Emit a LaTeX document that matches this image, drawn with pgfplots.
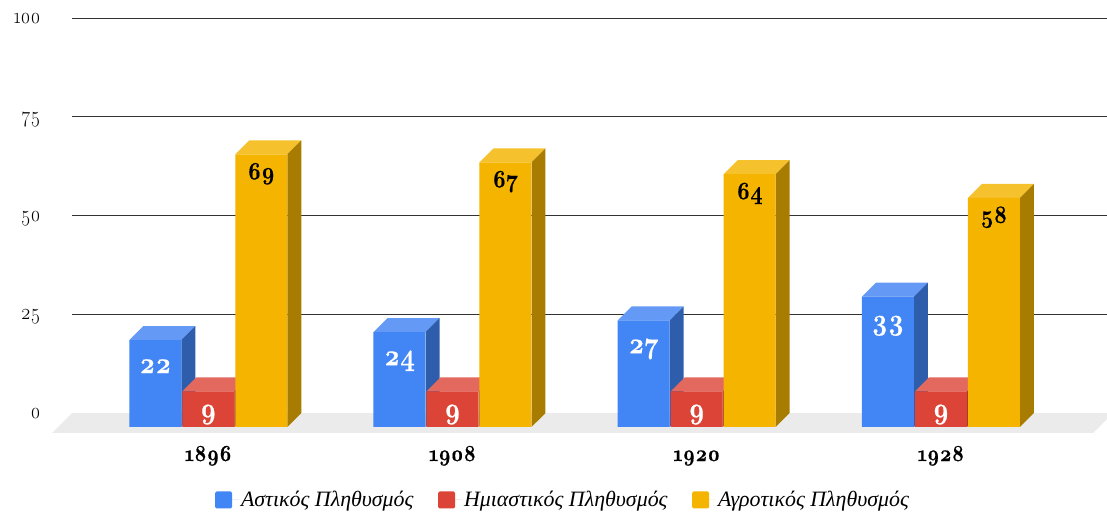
\documentclass[border=0pt]{standalone}
\usepackage{fontspec}
\setmainfont{Latin Modern Roman}
\newfontfamily\lmos[Numbers=OldStyle,FakeStretch=0.86,BoldFeatures={FakeBold=0.6}]{Latin Modern Roman}
\newfontfamily\grk{Liberation Serif}
\usepackage{pgfplots}
\pgfplotsset{compat=1.18}
\definecolor{cblue}{HTML}{4285F4}
\definecolor{cbluet}{HTML}{6499F6}
\definecolor{cblues}{HTML}{2E5DAB}
\definecolor{cred}{HTML}{DB4437}
\definecolor{credt}{HTML}{E3695F}
\definecolor{creds}{HTML}{993026}
\definecolor{cyel}{HTML}{F4B400}
\definecolor{cyelt}{HTML}{F5C12C}
\definecolor{cyels}{HTML}{A87C00}
\definecolor{cfloor}{HTML}{EBEBEB}
% x centre, value, top colour, side colour: the top and side faces of one bar
\newcommand\faces[4]{%
  \addplot[fill=#3,draw=none,forget plot] coordinates {({#1-0.1065},#2) ({#1+0.1065},#2) ({#1+0.1638},{#2+3.54}) ({#1-0.0492},{#2+3.54})} --cycle;
  \addplot[fill=#4,draw=none,forget plot] coordinates {({#1+0.1065},0) ({#1+0.1638},3.54) ({#1+0.1638},{#2+3.54}) ({#1+0.1065},#2)} --cycle;
}
\pgfplotsset{
  sq/.style={legend image code/.code={\path (0pt,0pt) -- (24pt,0pt);\fill[##1,rounded corners=1.5pt] (0pt,-8.5pt) rectangle (17pt,8.5pt);}},
  lab/.style n args={4}{nodes near coords,
    /pgf/number format/assume math mode=true,
    every node near coord/.style={anchor=base,xshift=#1,yshift=#2,text=#3,font=\fontsize{#4}{30}\selectfont\lmos\bfseries}},
}
\begin{document}
\begin{tikzpicture}
\path[use as bounding box] (-72pt,-80pt) rectangle (1035pt,433pt);
\begin{axis}[
  scale only axis,
  width=1035pt,height=415pt,
  xmin=-0.558,xmax=3.680,ymin=-1.52,ymax=103.54,
  clip=false,
  axis line style={draw=none},
  major tick style={draw=none},
  ymajorgrids,
  grid style={color=black!80,line width=0.9pt},
  xtick={0,1,2,3},
  xticklabels={1896,1908,1920,1928},
  ytick={3.54,28.54,53.54,78.54,103.54},
  yticklabels={0,25,50,75,100},
  yticklabel style={font=\fontsize{22}{25}\selectfont\lmos,anchor=base east,xshift=-28pt,yshift=-5.5pt},
  xticklabel style={font=\fontsize{23}{27}\selectfont\lmos\bfseries,anchor=base,yshift=-28pt},
  legend columns=3,
  legend style={at={(0.4744,-0.1614)},anchor=center,draw=none,fill=none,
    font=\fontsize{21.9}{25}\selectfont\grk\itshape,
    /tikz/every even column/.append style={column sep=22.5pt}},
  legend cell align=left,
]
% floor
\addplot[fill=cfloor,draw=none,forget plot] coordinates {(-0.6397,-1.52) (3.6227,-1.52) (3.680,2.0) (3.680,3.54) (-0.558,3.54)} --cycle;
% urban
\faces{-0.217}{22}{cbluet}{cblues}
\faces{0.783}{24}{cbluet}{cblues}
\faces{1.783}{27}{cbluet}{cblues}
\faces{2.783}{33}{cbluet}{cblues}
\addplot[ybar,bar width=52pt,bar shift=-53pt,fill=cblue,draw=none,sq,
  lab={-53pt}{-33pt}{white}{30}]
  coordinates {(0,22)(1,24)(2,27)(3,33)};
\addlegendentry{Αστικός Πληθυσμός}
% semi-urban
\faces{0}{9}{credt}{creds}
\faces{1}{9}{credt}{creds}
\faces{2}{9}{credt}{creds}
\faces{3}{9}{credt}{creds}
\addplot[ybar,bar width=52pt,bar shift=0pt,fill=cred,draw=none,sq,
  lab={0pt}{-27pt}{white}{30}]
  coordinates {(0,9)(1,9)(2,9)(3,9)};
\addlegendentry{Ημιαστικός Πληθυσμός}
% rural
\faces{0.217}{69}{cyelt}{cyels}
\faces{1.217}{67}{cyelt}{cyels}
\faces{2.217}{64}{cyelt}{cyels}
\faces{3.217}{58}{cyelt}{cyels}
\addplot[ybar,bar width=52pt,bar shift=53pt,fill=cyel,draw=none,sq,
  lab={53pt}{-25pt}{black}{25}]
  coordinates {(0,69)(1,67)(2,64)(3,58)};
\addlegendentry{Αγροτικός Πληθυσμός}
\end{axis}
\end{tikzpicture}
\end{document}
